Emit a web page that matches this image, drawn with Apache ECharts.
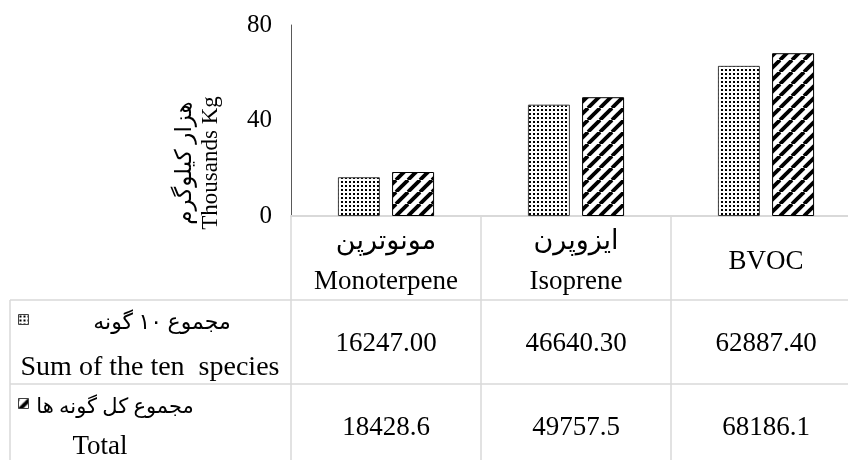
<!DOCTYPE html>
<html>
<head>
<meta charset="utf-8">
<script src="https://cdn.jsdelivr.net/npm/echarts@6/dist/echarts.min.js"></script>
<style>
  html, body { margin: 0; padding: 0; background: #fff; }
  #chart_1 { width: 848px; height: 460px; }
</style>
</head>
<body>
<div id="chart_1"></div>
<script>
var catFa = ['مونوترپن', 'ایزوپرن', ''];
var catEn = ['Monoterpene', 'Isoprene', 'BVOC'];
var sumTen = [16247.00, 46640.30, 62887.40];
var totalAll = [18428.6, 49757.5, 68186.1];
var yTicks = [0, 40, 80];

var FONT = "'Liberation Serif', 'DejaVu Sans', serif";

// pattern tiles for the two series
function dotTile() {
    var c = document.createElement('canvas');
    c.width = 4; c.height = 4;
    var g = c.getContext('2d');
    g.fillStyle = '#fff'; g.fillRect(0, 0, 4, 4);
    g.fillStyle = '#000'; g.fillRect(1, 1, 2, 2);
    return c;
}
function stripeTile() {
    var s = 12;
    var c = document.createElement('canvas');
    c.width = s; c.height = s;
    var g = c.getContext('2d');
    g.fillStyle = '#fff'; g.fillRect(0, 0, s, s);
    g.strokeStyle = '#000'; g.lineWidth = 3.8;
    for (var k = -1; k <= 1; k++) {
        g.beginPath();
        g.moveTo(k * s, s);
        g.lineTo(k * s + s, 0);
        g.stroke();
    }
    return c;
}
var dotFill = { image: dotTile(), repeat: 'repeat' };
var stripeFill = { image: stripeTile(), repeat: 'repeat' };

var myChart = echarts.init(document.getElementById('chart_1'));
var option = {
    animation: false,
    grid: { left: 291, top: 25, width: 570, height: 191, outerBoundsMode: 'none' },
    legend: {
        orient: 'vertical', left: 18, top: 314, padding: 0,
        itemWidth: 10, itemHeight: 10, itemGap: 73,
        icon: 'rect',
        itemStyle: { borderColor: '#404040', borderWidth: 1 },
        selectedMode: false, formatter: function () { return ''; },
        data: ['sum', 'total']
    },
    xAxis: {
        type: 'category',
        data: catEn,
        axisLine: { lineStyle: { color: '#d9d9d9', width: 2 } },
        axisTick: { show: false },
        axisLabel: {
            interval: 0, margin: 6, color: '#000',
            formatter: function (v, i) {
                return catFa[i] ? '{t|' + catFa[i] + '}\n{t|' + v + '}' : '{m|' + v + '}';
            },
            rich: {
                t: { fontFamily: FONT, fontSize: 27, lineHeight: 40, color: '#000' },
                m: { fontFamily: FONT, fontSize: 27, lineHeight: 80, color: '#000' }
            }
        }
    },
    yAxis: {
        type: 'value', min: 0, max: 80, interval: 40,
        axisLine: { show: true, lineStyle: { color: '#595959', width: 1 } },
        axisTick: { show: false },
        splitLine: { show: false },
        axisLabel: {
            margin: 19, color: '#000', fontFamily: FONT, fontSize: 25,
            formatter: function (v) { return yTicks.indexOf(v) >= 0 ? String(v) : ''; }
        }
    },
    series: [
        {
            name: 'sum', type: 'bar', barWidth: 42, barGap: '29%',
            itemStyle: { color: dotFill, borderColor: '#404040', borderWidth: 1 },
            data: sumTen.map(function (v) { return v / 1000; })
        },
        {
            name: 'total', type: 'bar', barWidth: 42,
            itemStyle: { color: stripeFill, borderColor: '#000', borderWidth: 1 },
            data: totalAll.map(function (v) { return v / 1000; })
        }
    ]
};
myChart.setOption(option);

// data table under the axis, placed from the axis scale
function buildTable() {
    var lineCol = '#d9d9d9';
    var gridTop = 216, row1 = 300, row2 = 384, bottom = 460;
    var band = myChart.convertToPixel({ xAxisIndex: 0 }, 1) - myChart.convertToPixel({ xAxisIndex: 0 }, 0);
    var els = [];
    function ln(x1, y1, x2, y2) {
        els.push({ type: 'line', silent: true, shape: { x1: x1, y1: y1, x2: x2, y2: y2 },
            style: { stroke: lineCol, lineWidth: 1.5 } });
    }
    function tx(x, y, s, size) {
        els.push({ type: 'text', silent: true, x: x, y: y,
            style: { text: s, fill: '#000', font: size + 'px ' + FONT, align: 'center', verticalAlign: 'middle' } });
    }
    var first = myChart.convertToPixel({ xAxisIndex: 0 }, 0) - band / 2;
    for (var i = 0; i <= catEn.length; i++) {
        var x = first + i * band;
        ln(x, gridTop, x, bottom);
    }
    ln(10, row1, 848, row1);
    ln(10, row2, 848, row2);
    ln(10, row1, 10, bottom);

    for (var j = 0; j < catEn.length; j++) {
        var cx = myChart.convertToPixel({ xAxisIndex: 0 }, j);
        tx(cx, 344, sumTen[j].toFixed(2), 27);
        tx(cx, 428, totalAll[j].toFixed(1), 27);
    }
    tx(162, 323, 'مجموع ۱۰ گونه', 22);
    tx(150, 368, 'Sum of the ten  species', 28);
    tx(115, 407, 'مجموع کل گونه ها', 21);
    tx(100, 447, 'Total', 27);

    els.push({ type: 'text', silent: true, x: 198, y: 163, rotation: Math.PI / 2,
        style: { text: 'هزار کیلوگرم\nThousands Kg', fill: '#000', font: '23px ' + FONT,
            lineHeight: 26, align: 'center', verticalAlign: 'middle' } });

    myChart.setOption({ graphic: els });
}
buildTable();
</script>
</body>
</html>
